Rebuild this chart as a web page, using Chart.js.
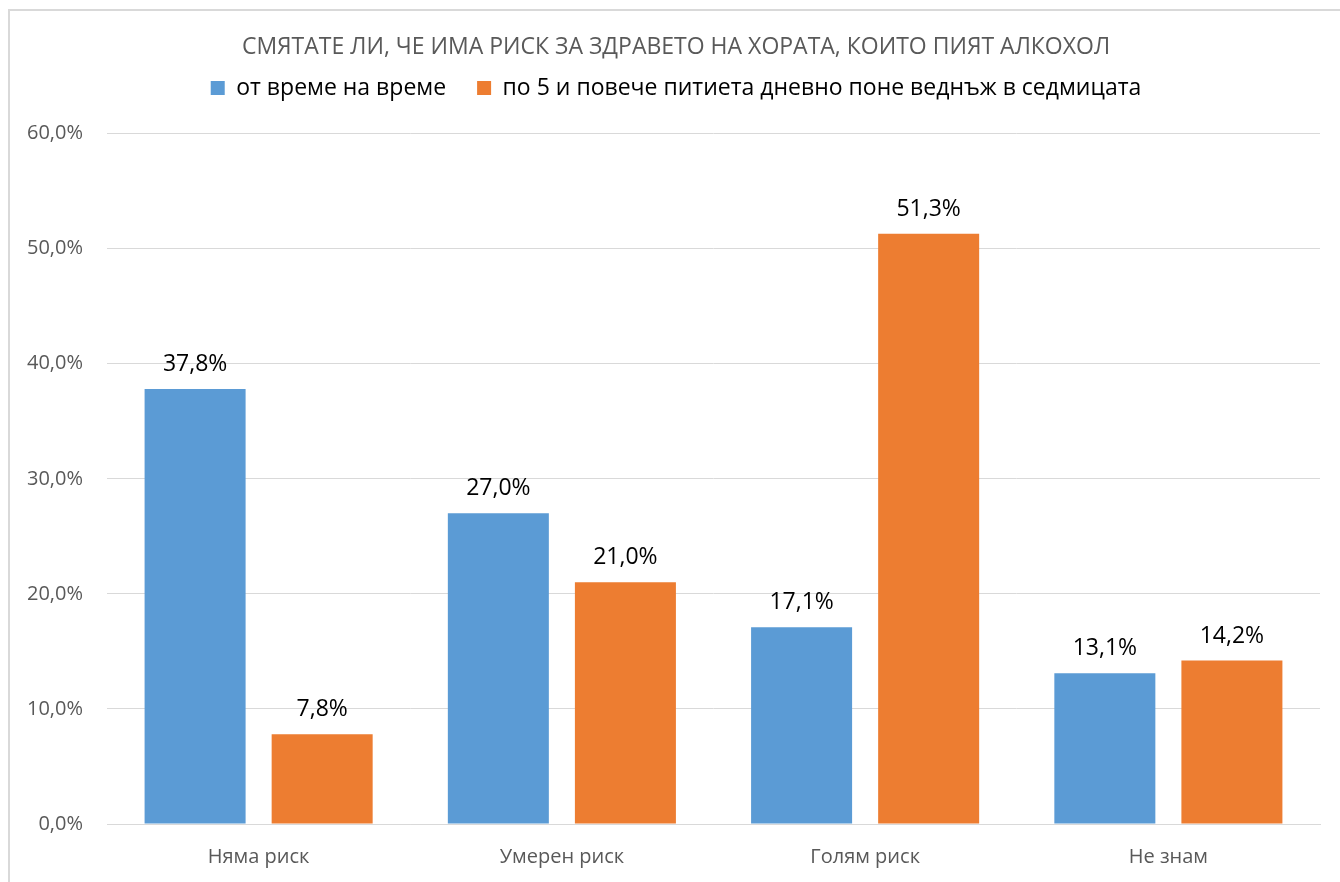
<!DOCTYPE html>
<html>
<head>
<meta charset="utf-8">
<script src="https://cdn.jsdelivr.net/npm/chart.js@4/dist/chart.umd.min.js"></script>
<style>
  body { margin: 0; background: #fff; overflow: hidden; }
  #frame { position: absolute; left: 8px; top: 9px; width: 1350px; height: 900px; border: 2px solid #d9d9d9; }
  #wrap { position: absolute; left: 0; top: 0; width: 1340px; height: 882px; }
</style>
</head>
<body>
<div id="frame"></div>
<div id="wrap"><canvas id="chart"></canvas></div>
<script>
// категории и стойности (в проценти)
const categories = ['Няма риск', 'Умерен риск', 'Голям риск', 'Не знам'];
const seriesNames = ['от време на време', 'по 5 и повече питиета дневно поне веднъж в седмицата'];
const occasional = [37.8, 27.0, 17.1, 13.1];
const heavy = [7.8, 21.0, 51.3, 14.2];
const yTicks = [0, 10, 20, 30, 40, 50, 60];

const fmt = v => v.toFixed(1).replace('.', ',') + '%';
const FONT = '"Open Sans", sans-serif';

// надписи над колоните
const barLabels = {
    id: 'barLabels',
    afterDatasetsDraw(chart) {
        const ctx = chart.ctx;
        ctx.save();
        ctx.font = '23px ' + FONT;
        ctx.fillStyle = '#000';
        ctx.textAlign = 'center';
        ctx.textBaseline = 'alphabetic';
        chart.data.datasets.forEach((ds, i) => {
            chart.getDatasetMeta(i).data.forEach((bar, j) => {
                ctx.fillText(fmt(ds.data[j]), bar.x, bar.y - 18);
            });
        });
        ctx.restore();
    }
};

// повече място под легендата
const legendGap = {
    id: 'legendGap',
    beforeInit(chart) {
        const fit = chart.legend.fit;
        chart.legend.fit = function () {
            fit.bind(chart.legend)();
            this.height += 24;
        };
    }
};

new Chart(document.getElementById('chart'), {
    type: 'bar',
    data: {
        labels: categories,
        datasets: [
            { label: seriesNames[0], data: occasional, backgroundColor: '#5B9BD5' },
            { label: seriesNames[1], data: heavy, backgroundColor: '#ED7D31' }
        ]
    },
    options: {
        responsive: true,
        maintainAspectRatio: false,
        animation: false,
        categoryPercentage: 0.838,
        barPercentage: 0.795,
        layout: { padding: { left: 32, right: 20, top: 34, bottom: 0 } },
        plugins: {
            title: {
                display: true,
                text: 'СМЯТАТЕ ЛИ, ЧЕ ИМА РИСК ЗА ЗДРАВЕТО НА ХОРАТА, КОИТО ПИЯТ АЛКОХОЛ',
                color: '#595959',
                font: { family: FONT, size: 23, weight: 'normal' },
                padding: { top: 0, bottom: -16 }
            },
            legend: {
                position: 'top',
                labels: {
                    color: '#000',
                    font: { family: FONT, size: 23 },
                    boxWidth: 14, boxHeight: 14,
                    padding: 31
                }
            },
            tooltip: { enabled: false }
        },
        scales: {
            x: {
                grid: { display: false },
                border: { color: '#d9d9d9' },
                ticks: { color: '#595959', font: { family: FONT, size: 20 }, padding: 13 }
            },
            y: {
                min: 0, max: 60,
                afterBuildTicks: axis => { axis.ticks = yTicks.map(v => ({ value: v })); },
                afterFit: axis => {
                    axis.width = 75;
                    // етикетите излизат вляво от оста, без изрязване
                    axis._computeLabelArea = () => undefined;
                },
                grid: { color: '#d9d9d9', drawTicks: false },
                border: { display: false },
                ticks: { color: '#595959', font: { family: FONT, size: 20 }, padding: 24, callback: v => fmt(v) }
            }
        }
    },
    plugins: [barLabels, legendGap]
});
</script>
</body>
</html>
